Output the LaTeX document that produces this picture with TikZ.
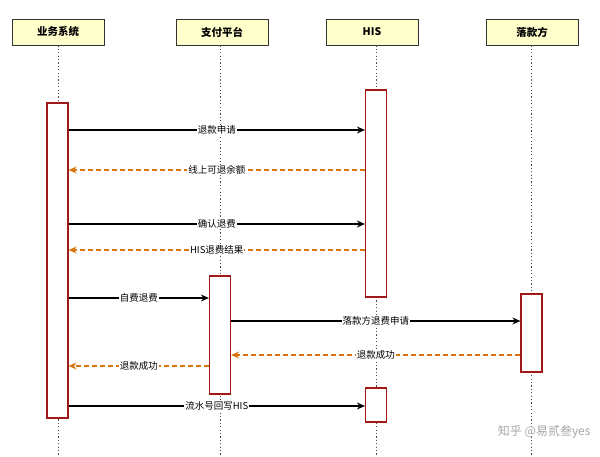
\documentclass[tikz,border=0pt]{standalone}
\usepackage{fontspec}
\setmainfont{Noto Sans CJK SC}
\usetikzlibrary{arrows.meta}
\definecolor{hdrfill}{HTML}{FFFFCC}
\definecolor{actred}{HTML}{A01818}
\definecolor{retor}{HTML}{D9750F}
\begin{document}
\begin{tikzpicture}[x=1pt,y=-1pt,
  hdr/.style={draw=black!80,fill=hdrfill,line width=0.8pt,minimum width=92pt,minimum height=26pt,font=\fontsize{10.5}{11}\selectfont\bfseries,inner sep=0},
  act/.style={draw=actred,fill=white,line width=1.2pt,minimum width=21pt,inner sep=0},
  life/.style={black!70,line width=0.9pt,dash pattern=on 1.2pt off 2.2pt},
  req/.style={-{Stealth[length=8pt,width=7pt]},line width=1.2pt,black},
  ret/.style={-{Stealth[length=8pt,width=7pt]},line width=1.3pt,retor,dash pattern=on 5pt off 3pt},
  lbl/.style={fill=white,inner sep=1pt,font=\fontsize{9.5}{10}\selectfont,text=black}]
\useasboundingbox (0,0) rectangle (600,457);
\node[hdr] (h1) at (58,32) {业务系统};
\node[hdr] (h2) at (222,32) {支付平台};
\node[hdr] (h3) at (372,32) {HIS};
\node[hdr] (h4) at (532,32) {落款方};
\foreach \h/\x in {h1/58,h2/220,h3/376,h4/531}{
  \coordinate (e\h) at (\x,457);
  \draw[life] (\h.south -| e\h) -- (e\h);}
\node[act,minimum height=315pt] (a1) at (57.5,260.5) {};
\node[act,minimum height=207pt] (a3) at (376,193.5) {};
\node[act,minimum height=34pt] (a3b) at (376,405) {};
\node[act,minimum height=118pt] (a2) at (220,335) {};
\node[act,minimum height=78pt] (a4) at (531.5,333) {};
\draw[req] (a1.east |- 0,130) -- (a3.west |- 0,130) node[lbl,midway] {退款申请};
\draw[ret] (a3.west |- 0,170) -- (a1.east |- 0,170) node[lbl,midway] {线上可退余额};
\draw[req] (a1.east |- 0,224) -- (a3.west |- 0,224) node[lbl,midway] {确认退费};
\draw[ret] (a3.west |- 0,250) -- (a1.east |- 0,250) node[lbl,midway] {HIS退费结果};
\draw[req] (a1.east |- 0,298) -- (a2.west |- 0,298) node[lbl,midway] {自费退费};
\draw[req] (a2.east |- 0,321) -- (a4.west |- 0,321) node[lbl,midway] {落款方退费申请};
\draw[ret] (a4.west |- 0,355) -- (a2.east |- 0,355) node[lbl,midway] {退款成功};
\draw[ret] (a2.west |- 0,366) -- (a1.east |- 0,366) node[lbl,midway] {退款成功};
\draw[req] (a1.east |- 0,406) -- (a3b.west |- 0,406) node[lbl,midway] {流水号回写HIS};
\node[text=black!35,font=\fontsize{12}{13}\selectfont,anchor=east] (wm) at (594,432) {知乎 @易贰叁yes};
\end{tikzpicture}
\end{document}
